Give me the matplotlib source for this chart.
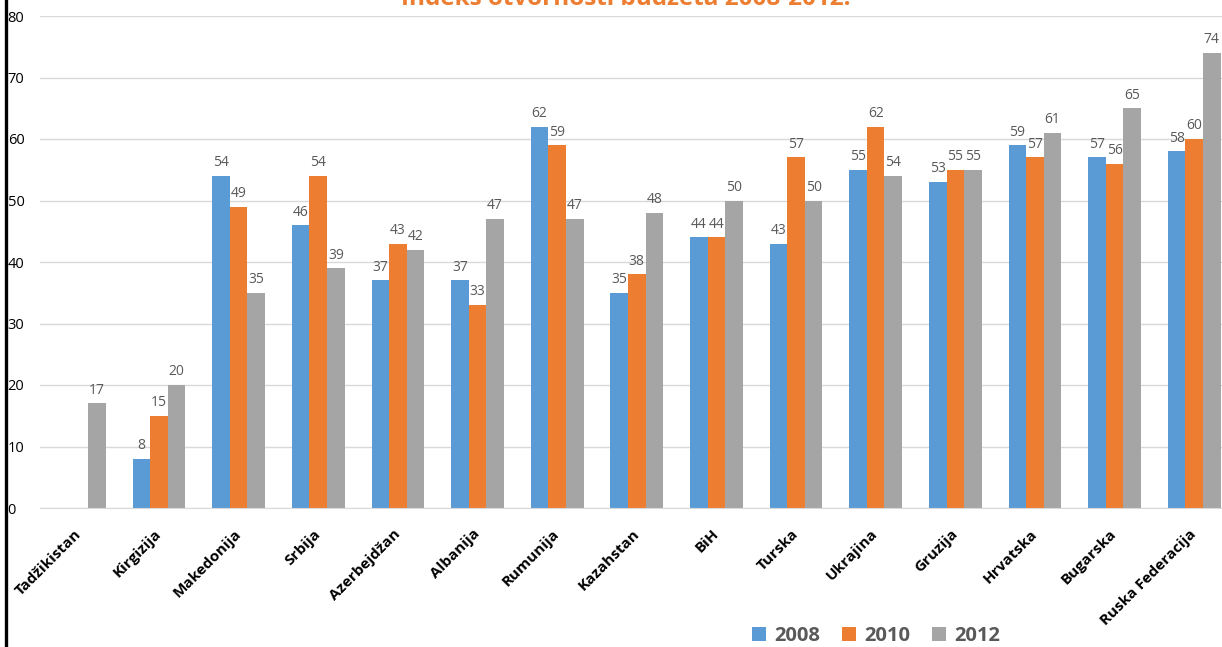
import numpy as np
import matplotlib
matplotlib.use("Agg")
import matplotlib.pyplot as plt
from matplotlib.lines import Line2D

plt.rcParams['font.family'] = ['Open Sans', 'DejaVu Sans']

countries = ['Tadžikistan', 'Kirgizija', 'Makedonija', 'Srbija', 'Azerbejdžan',
             'Albanija', 'Rumunija', 'Kazahstan', 'BiH', 'Turska', 'Ukrajina',
             'Gruzija', 'Hrvatska', 'Bugarska', 'Ruska Federacija']
years = ['2008', '2010', '2012']
v2008 = [np.nan, 8, 54, 46, 37, 37, 62, 35, 44, 43, 55, 53, 59, 57, 58]
v2010 = [np.nan, 15, 49, 54, 43, 33, 59, 38, 44, 57, 62, 55, 57, 56, 60]
v2012 = [17, 20, 35, 39, 42, 47, 47, 48, 50, 50, 54, 55, 61, 65, 74]
colors = ['#5B9BD5', '#ED7D31', '#A5A5A5']

W, H = 1222, 647
fig = plt.figure(figsize=(W / 100, H / 100), dpi=100)
ax = fig.add_axes([39.6 / W, 1 - 508 / H, (1234 - 39.6) / W, (508 - 16) / H])

x = np.arange(len(countries))
bw = 0.221
for k, (vals, col, yr) in enumerate(zip([v2008, v2010, v2012], colors, years)):
    pos = x + (k - 1) * bw
    ax.bar(pos, vals, bw, color=col, label=yr, zorder=2)
    for p, v in zip(pos, vals):
        if not np.isnan(v):
            ax.annotate(f'{v:g}', (p, v), xytext=(0, 4), textcoords='offset points',
                        ha='center', va='bottom', fontsize=10, color='#595959')

ax.set_xlim(-0.5, len(countries) - 0.5)
ax.set_ylim(0, 80)
ax.set_yticks(range(0, 81, 10))
ax.yaxis.grid(True, color='#D9D9D9', linewidth=1, zorder=0)
ax.set_axisbelow(True)
for s in ['top', 'right', 'left']:
    ax.spines[s].set_visible(False)
ax.spines['bottom'].set_color('#D9D9D9')
ax.tick_params(axis='both', length=0)
ax.tick_params(axis='y', pad=23, labelsize=10.5)
for lbl in ax.get_yticklabels():
    lbl.set_ha('left')

ax.set_xticks(x)
ax.set_xticklabels(countries, rotation=45, ha='right', va='center',
                   rotation_mode='anchor', fontsize=11, fontweight='bold')
ax.tick_params(axis='x', pad=17)

fig.text(626 / W, 1 + 1 / H, 'Indeks otvornosti budžeta 2008-2012.', ha='center',
         va='center', fontsize=17.5, fontweight='bold', color='#ED7D31')

fig.legend(loc='center', bbox_to_anchor=(876 / W, 1 - 636 / H), ncol=3, frameon=False,
           handlelength=0.7, handleheight=0.7, handletextpad=0.4, columnspacing=1.1,
           prop={'size': 14.5, 'weight': 'bold'}, labelcolor='#595959')

fig.add_artist(Line2D([6 / W, 6 / W], [0, 1], color='black', linewidth=2.4))

fig.savefig('out.png', dpi=100)
